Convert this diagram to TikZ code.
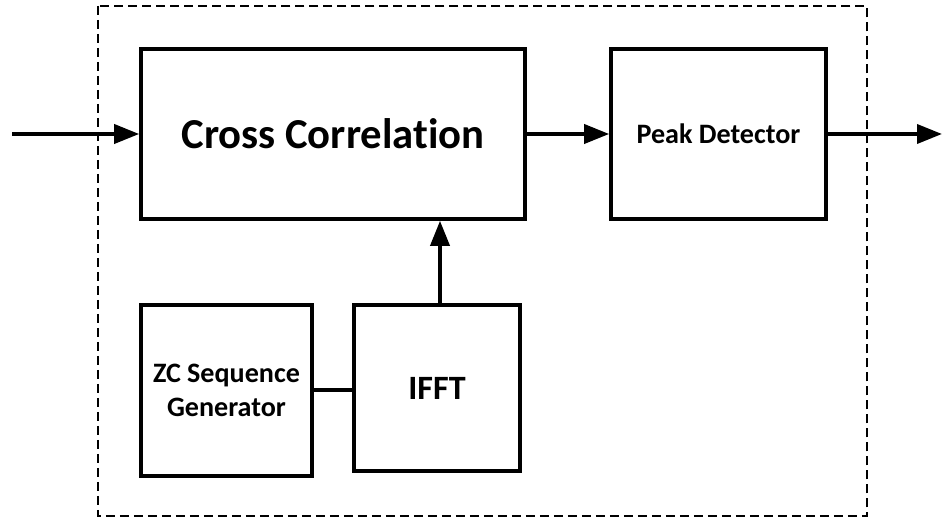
\documentclass[tikz,border=0pt]{standalone}
\usepackage{fontspec}
\setmainfont[Ligatures=CommonOff]{Carlito}
\usetikzlibrary{arrows.meta}

\begin{document}
\begin{tikzpicture}[x=0.02cm, y=-0.02cm,
  blk/.style={draw, line width=2.1pt, align=center, font=\bfseries, inner sep=0pt},
  arr/.style={line width=2.1pt, -{Triangle[length=0.5cm, width=0.38cm]}}]
\useasboundingbox (0,0) rectangle (942,519);

\draw[line width=1.1pt, dash pattern=on 0.18cm off 0.1cm] (98,6) rectangle (867,516);

\begin{scope}[every node/.style={blk}]
\node[minimum width=7.68cm, minimum height=3.4cm, font=\bfseries\fontsize{24.3}{29}\selectfont] (cc) at (333,134) {Cross Correlation};
\node[minimum width=4.3cm, minimum height=3.4cm, font=\bfseries\fontsize{16}{19}\selectfont] (pd) at (718.5,134) {Peak Detector};
\node[minimum width=3.42cm, minimum height=3.42cm, font=\bfseries\fontsize{16}{19.5}\selectfont] (zc) at (226.5,390.5) {ZC Sequence\\Generator};
\node[minimum width=3.32cm, minimum height=3.32cm, font=\bfseries\fontsize{19.4}{23}\selectfont] (ifft) at (437,388) {IFFT};
\end{scope}

\coordinate (in) at (12,134);
\coordinate (out) at (942,134);

\draw[arr] (in) -- (cc);
\draw[arr] (cc) -- (pd);
\draw[arr] (pd) -- (out);
\draw[arr] ([xshift=0.06cm]ifft.north) -- ([xshift=0.06cm]ifft.north |- cc.south);
\draw[line width=2.1pt] (zc.east |- 0,390) -- (ifft.west |- 0,390);
\end{tikzpicture}
\end{document}
